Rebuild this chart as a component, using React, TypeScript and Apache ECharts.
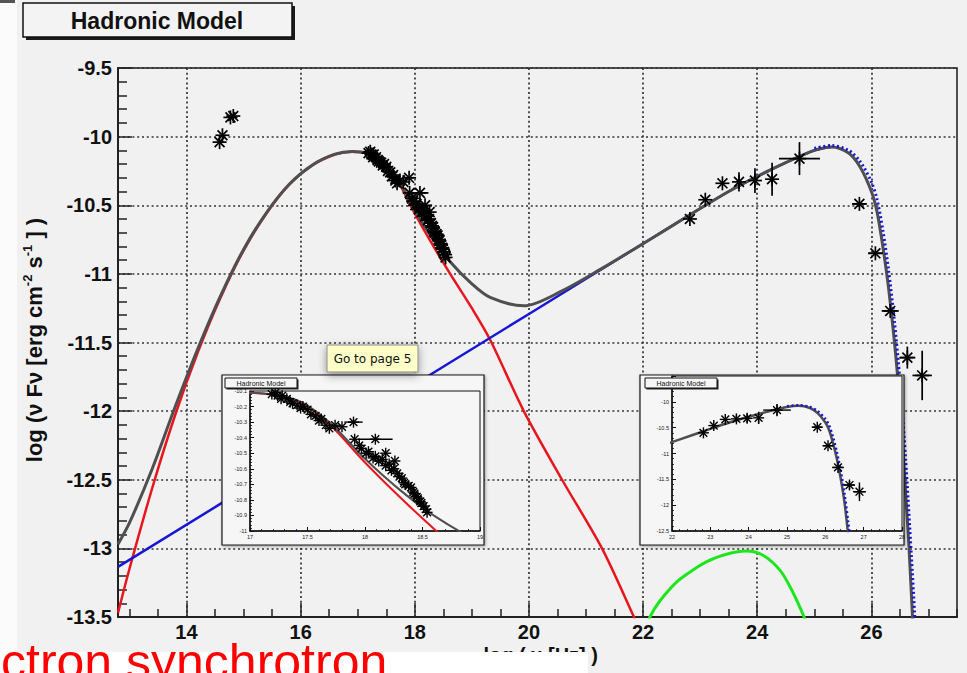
import React, { useEffect, useRef } from "react";
import * as echarts from "echarts";

// x = log10(ν / Hz), y = log10(νFν / erg cm^-2 s^-1)

// electron synchrotron component (red)
const syncX = [12.8, 13.0, 13.4, 13.8, 14.2, 14.6, 15.0, 15.4, 15.8, 16.2, 16.6, 16.9, 17.2, 17.45, 17.7, 18.0, 18.3, 18.62, 19.0, 19.32, 19.91, 20.58, 21.28, 21.84, 22.0];
const syncY = [-13.47, -13.15, -12.56, -12.03, -11.57, -11.17, -10.83, -10.56, -10.35, -10.21, -10.13, -10.11, -10.125, -10.18, -10.32, -10.56, -10.78, -11.0, -11.25, -11.48, -12.0, -12.5, -13.0, -13.5, -13.65];

// proton synchrotron component (blue), power-law part
const protonX = [12.8, 16.0, 20.0, 23.0, 23.5, 24.0, 24.5, 25.0, 25.3];
const protonY = [-13.135, -12.316, -11.292, -10.524, -10.4, -10.29, -10.19, -10.1, -10.075];

// proton synchrotron high-energy cutoff (blue, dotted)
const cutoffX = [25.0, 25.3, 25.6, 25.8, 26.0, 26.1, 26.2, 26.3, 26.4, 26.5, 26.6, 26.7, 26.76, 26.8];
const cutoffY = [-10.085, -10.065, -10.1, -10.18, -10.33, -10.46, -10.68, -10.97, -11.33, -11.78, -12.35, -13.05, -13.5, -13.9];

// muon / pion cascade component (green)
const cascadeX = [22.05, 22.12, 22.3, 22.6, 22.9, 23.1, 23.4, 23.8, 24.1, 24.4, 24.6, 24.82, 24.9];
const cascadeY = [-13.6, -13.5, -13.38, -13.24, -13.15, -13.1, -13.05, -13.02, -13.05, -13.16, -13.3, -13.5, -13.6];

// total model (grey)
const totalX = [12.8, 13.0, 13.4, 13.8, 14.2, 14.6, 15.0, 15.4, 15.8, 16.2, 16.6, 16.9, 17.2, 17.45, 17.7, 18.0, 18.3, 18.62, 19.0, 19.32, 19.91, 20.58, 21.28, 21.84, 22.5, 23.0, 23.5, 24.0, 24.5, 25.0, 25.3, 25.6, 25.8, 26.0, 26.1, 26.2, 26.3, 26.4, 26.5, 26.6, 26.66, 26.72, 26.76];
const totalY = [-12.97, -12.815, -12.42, -11.97, -11.544, -11.157, -10.822, -10.555, -10.347, -10.208, -10.128, -10.108, -10.123, -10.173, -10.308, -10.536, -10.734, -10.911, -11.073, -11.172, -11.233, -11.124, -10.96, -10.82, -10.652, -10.524, -10.4, -10.29, -10.19, -10.1, -10.075, -10.12, -10.22, -10.4, -10.55, -10.8, -11.1, -11.48, -11.95, -12.6, -13.0, -13.5, -13.8];

// optical points
const optX = [14.58, 14.63, 14.77, 14.82];
const optY = [-10.04, -9.99, -9.86, -9.85];

// X-ray points
const xrayX = [17.19, 17.22, 17.24, 17.27, 17.28, 17.32, 17.35, 17.37, 17.41, 17.44, 17.46, 17.5, 17.53, 17.57, 17.6, 17.62, 17.66, 17.69, 17.74, 17.8, 17.9, 17.91, 18.09, 17.95, 17.97, 18.01, 18.03, 18.07, 18.09, 18.12, 18.15, 18.18, 18.18, 18.21, 18.23, 18.25, 18.26, 18.28, 18.3, 18.32, 18.34, 18.35, 18.38, 18.4, 18.42, 18.43, 18.45, 18.46, 18.48, 18.49, 18.51, 18.53, 18.54];
const xrayY = [-10.12, -10.11, -10.13, -10.15, -10.13, -10.15, -10.17, -10.18, -10.19, -10.21, -10.2, -10.22, -10.25, -10.26, -10.29, -10.28, -10.32, -10.34, -10.32, -10.33, -10.3, -10.41, -10.41, -10.45, -10.47, -10.5, -10.49, -10.53, -10.52, -10.55, -10.54, -10.58, -10.5, -10.57, -10.61, -10.6, -10.55, -10.63, -10.65, -10.66, -10.69, -10.7, -10.71, -10.72, -10.75, -10.76, -10.78, -10.79, -10.81, -10.82, -10.84, -10.86, -10.88];
const xrayXErr = [0, 0, 0, 0, 0, 0, 0, 0, 0, 0, 0, 0, 0, 0, 0, 0, 0, 0, 0, 0, 0.08, 0, 0.15, 0, 0, 0, 0, 0, 0, 0, 0, 0, 0, 0, 0, 0, 0, 0, 0, 0, 0, 0, 0, 0, 0, 0, 0, 0, 0, 0, 0, 0, 0];

// gamma-ray points
const gammaX = [22.82, 23.09, 23.39, 23.68, 23.96, 24.26, 24.74, 25.79, 26.07, 26.33, 26.63, 26.89];
const gammaY = [-10.6, -10.46, -10.34, -10.33, -10.32, -10.31, -10.16, -10.49, -10.85, -11.27, -11.61, -11.74];
const gammaXErr = [0, 0, 0, 0, 0, 0, 0.36, 0.13, 0.13, 0.15, 0.14, 0.17];
const gammaYErr = [0, 0, 0, 0.07, 0.09, 0.12, 0.12, 0, 0, 0, 0.08, 0.18];

// axis ticks
const xMajorTicks = [14, 16, 18, 20, 22, 24, 26];
const xRange = [12.8, 27.5];
const yRange = [-13.5, -9.5];

const FONT = '"Liberation Sans", Arial, Helvetica, sans-serif';
const RED = "#e8161c";
const BLUE = "#1616d6";
const GREY = "#4f4f4f";
const GREEN = "#1ee61e";

const zip = (xs: number[], ys: number[]) => xs.map((x, i) => [x, ys[i]]);

const points = (xs: number[], ys: number[], xe?: number[], ye?: number[]) =>
  xs.map((x, i) => [x, ys[i], xe ? xe[i] : 0, ye ? ye[i] : 0]);

function starRenderer(radius: number, lw: number) {
  return (params: any, api: any) => {
    const x = api.value(0);
    const y = api.value(1);
    const xe = api.value(2) || 0;
    const ye = api.value(3) || 0;
    const c = api.coord([x, y]);
    const cs = params.coordSys;
    if (c[0] < cs.x || c[0] > cs.x + cs.width || c[1] < cs.y || c[1] > cs.y + cs.height) return null;
    const style = { stroke: "#000", lineWidth: lw };
    const seg = (x1: number, y1: number, x2: number, y2: number) => ({
      type: "line",
      shape: { x1, y1, x2, y2 },
      style,
    });
    const children: any[] = [];
    if (xe > 0) {
      const a = api.coord([x - xe, y]);
      const b = api.coord([x + xe, y]);
      children.push(seg(Math.max(a[0], cs.x), a[1], Math.min(b[0], cs.x + cs.width), b[1]));
    }
    if (ye > 0) {
      const a = api.coord([x, y - ye]);
      const b = api.coord([x, y + ye]);
      children.push(seg(a[0], a[1], b[0], b[1]));
    }
    const d = radius * Math.SQRT1_2;
    children.push(
      seg(c[0] - radius, c[1], c[0] + radius, c[1]),
      seg(c[0], c[1] - radius, c[0], c[1] + radius),
      seg(c[0] - d, c[1] - d, c[0] + d, c[1] + d),
      seg(c[0] - d, c[1] + d, c[0] + d, c[1] - d)
    );
    return { type: "group", children };
  };
}

const trimNum = (v: number) => String(Number(v.toFixed(2)));

function lineSeries(name: string, data: number[][], color: string, width: number, xi: number, yi: number, z: number, dotted = false) {
  return {
    name,
    type: "line",
    xAxisIndex: xi,
    yAxisIndex: yi,
    data,
    showSymbol: false,
    smooth: 0.3,
    clip: true,
    z,
    lineStyle: { color, width, type: dotted ? [2, 2.6] : "solid" },
    silent: true,
  };
}

function insetAxes(gridIndex: number, xmin: number, xmax: number, xint: number, ymin: number, ymax: number, yint: number) {
  const common = {
    gridIndex,
    type: "value",
    z: 12,
    axisLine: { show: true, lineStyle: { color: "#111", width: 1.5 } },
    axisTick: { show: true, inside: true, length: 4, lineStyle: { color: "#111", width: 1 } },
    minorTick: { show: true, splitNumber: 5, length: 2, lineStyle: { color: "#111", width: 0.8 } },
    splitLine: { show: false },
    axisLabel: { fontSize: 5.5, color: "#222", fontFamily: FONT, margin: 3, formatter: trimNum },
  };
  return {
    x: { ...common, min: xmin, max: xmax, interval: xint, position: "bottom" },
    y: { ...common, min: ymin, max: ymax, interval: yint, position: "left", axisLabel: { ...common.axisLabel, showMaxLabel: gridIndex === 1 } },
  };
}

export default function App() {
  const ref = useRef<HTMLDivElement>(null);

  useEffect(() => {
    if (!ref.current) return;
    const chart = echarts.init(ref.current, undefined, { renderer: "svg" });

    const xMinorTicks: number[] = [];
    for (let v = 13; v <= 27.5; v += 0.5) if (!xMajorTicks.includes(v)) xMinorTicks.push(v);

    const leftInset = insetAxes(1, 17, 19, 0.5, -11, -10.1, 0.1);
    const rightInset = insetAxes(2, 22, 28, 1, -12.5, -9.5, 0.5);

    const dotted = { show: true, lineStyle: { color: "#333", width: 1.7, type: [2, 2.8] } };

    const insetPanel = (x: number, y: number, w: number, h: number) => [
      {
        type: "rect",
        z: 10,
        shape: { x, y, width: w, height: h },
        style: { fill: "#f6f6f6", stroke: "#1a1a1a", lineWidth: 1.2, shadowBlur: 3, shadowColor: "rgba(0,0,0,0.35)", shadowOffsetX: 1, shadowOffsetY: 1 },
      },
    ];
    const insetTitle = (x: number, y: number) => [
      { type: "rect", z: 15, shape: { x: x + 1.5, y: y + 1.5, width: 72, height: 10 }, style: { fill: "#222" } },
      { type: "rect", z: 15, shape: { x, y, width: 72, height: 10 }, style: { fill: "#f6f6f6", stroke: "#111", lineWidth: 1 } },
      {
        type: "text",
        z: 16,
        x: x + 36,
        y: y + 5,
        style: { text: "Hadronic Model", fontSize: 7, fontFamily: FONT, fill: "#111", align: "center", verticalAlign: "middle" },
      },
    ];

    const option: any = {
      animation: false,
      backgroundColor: "#f1f1f1",
      grid: [
        { left: 118, top: 68, width: 839, height: 549, show: true, backgroundColor: "transparent", borderColor: "#1a1a1a", borderWidth: 1.5 },
        { left: 250, top: 391, width: 230, height: 140, show: true, backgroundColor: "transparent", borderColor: "#111", borderWidth: 1, z: 12 },
        { left: 672, top: 376, width: 230, height: 155, show: true, backgroundColor: "transparent", borderColor: "#111", borderWidth: 1, z: 12 },
      ],
      xAxis: [
        {
          gridIndex: 0,
          type: "value",
          min: xRange[0],
          max: xRange[1],
          position: "bottom",
          axisLine: { show: true, onZero: false, lineStyle: { color: "#222", width: 2 } },
          axisTick: { show: true, inside: true, length: 14, customValues: xMajorTicks, lineStyle: { color: "#222", width: 1.5 } },
          axisLabel: { customValues: xMajorTicks, fontSize: 20, fontWeight: "bold", color: "#111", fontFamily: FONT, margin: 5 },
          splitLine: dotted,
        },
        {
          gridIndex: 0,
          type: "value",
          min: xRange[0],
          max: xRange[1],
          position: "bottom",
          axisLine: { show: false },
          axisTick: { show: true, inside: true, length: 8, customValues: xMinorTicks, lineStyle: { color: "#222", width: 1.5 } },
          axisLabel: { show: false },
          splitLine: { show: false },
        },
        leftInset.x,
        rightInset.x,
      ],
      yAxis: [
        {
          gridIndex: 0,
          type: "value",
          min: yRange[0],
          max: yRange[1],
          interval: 0.5,
          axisLine: { show: true, onZero: false, lineStyle: { color: "#222", width: 2 } },
          axisTick: { show: true, inside: true, length: 14, lineStyle: { color: "#222", width: 1.5 } },
          minorTick: { show: true, splitNumber: 5, length: 9, lineStyle: { color: "#222", width: 1.5 } },
          axisLabel: { fontSize: 20, fontWeight: "bold", color: "#111", fontFamily: FONT, margin: 6, formatter: trimNum },
          splitLine: dotted,
        },
        leftInset.y,
        rightInset.y,
      ],
      graphic: [
        // page edges
        { type: "rect", z: 0, shape: { x: 0, y: 0, width: 17, height: 673 }, style: { fill: "#fbfbfb" } },
        { type: "rect", z: 0, shape: { x: 0, y: 0, width: 15, height: 3 }, style: { fill: "#555" } },
        // title box
        { type: "rect", z: 5, shape: { x: 26, y: 6, width: 269, height: 34 }, style: { fill: "#1a1a1a" } },
        { type: "rect", z: 5, shape: { x: 23, y: 3, width: 269, height: 34 }, style: { fill: "#f3f3f3", stroke: "#111", lineWidth: 1.5 } },
        {
          type: "text",
          z: 6,
          x: 157,
          y: 21,
          style: { text: "Hadronic Model", fontSize: 23, fontWeight: "bold", fontFamily: FONT, fill: "#111", align: "center", verticalAlign: "middle" },
        },
        // y-axis title
        {
          type: "text",
          z: 6,
          x: 34,
          y: 340,
          rotation: Math.PI / 2,
          style: {
            text: "{b|log (ν Fν [erg cm}{s|-2}{b| s}{s|-1}{b| ] )}",
            align: "center",
            verticalAlign: "middle",
            fill: "#111",
            rich: {
              b: { fontSize: 22, fontWeight: "bold", fontFamily: FONT, fill: "#111", lineHeight: 27 },
              s: { fontSize: 13, fontWeight: "bold", fontFamily: FONT, fill: "#111", lineHeight: 13, verticalAlign: "top" },
            },
          },
        },
        // insets
        ...insetPanel(222, 375, 262, 170),
        ...insetPanel(640, 375, 264, 170),
        ...insetTitle(225, 378),
        ...insetTitle(645, 378),
        // link tooltip
        {
          type: "rect",
          z: 20,
          shape: { x: 327, y: 345, width: 91, height: 27 },
          style: { fill: "#ffffc8", stroke: "#8c8c8c", lineWidth: 1, shadowBlur: 8, shadowColor: "rgba(0,0,0,0.4)", shadowOffsetY: 3 },
        },
        {
          type: "text",
          z: 21,
          x: 372.5,
          y: 358.5,
          style: { text: "Go to page 5", fontSize: 12, fontFamily: '"DejaVu Sans", sans-serif', fill: "#111", align: "center", verticalAlign: "middle" },
        },
        // x-axis title and the overlapping slide caption
        {
          type: "text",
          z: 19,
          x: 598,
          y: 645,
          style: { text: "log ( ν [Hz] )", fontSize: 20, fontWeight: "bold", fontFamily: FONT, fill: "#111", align: "right", verticalAlign: "top" },
        },
        { type: "rect", z: 20, shape: { x: 0, y: 652, width: 588, height: 21 }, style: { fill: "#ffffff" } },
        {
          type: "text",
          z: 21,
          x: 1,
          y: 662,
          style: { text: "ctron synchrotron", fontSize: 50, fontFamily: FONT, fill: "#ff0000", align: "left", verticalAlign: "middle" },
        },
      ],
      series: [
        lineSeries("cascade", zip(cascadeX, cascadeY), GREEN, 3, 0, 0, 2),
        lineSeries("electron synchrotron", zip(syncX, syncY), RED, 2.5, 0, 0, 2),
        lineSeries("proton synchrotron", zip(protonX, protonY), BLUE, 2.5, 0, 0, 2),
        lineSeries("total", zip(totalX, totalY), GREY, 3, 0, 0, 3),
        lineSeries("proton cutoff", zip(cutoffX, cutoffY), BLUE, 3, 0, 0, 3, true),
        {
          type: "custom",
          xAxisIndex: 0,
          yAxisIndex: 0,
          z: 4,
          silent: true,
          renderItem: starRenderer(7, 1.7),
          encode: { x: 0, y: 1 },
          data: [
            ...points(optX, optY),
            ...points(xrayX, xrayY, xrayXErr),
            ...points(gammaX, gammaY, gammaXErr, gammaYErr),
          ],
        },
        // left inset: X-ray band
        lineSeries("inset electron synchrotron", zip(syncX, syncY), RED, 2, 2, 1, 13),
        lineSeries("inset total", zip(totalX, totalY), GREY, 2, 2, 1, 13),
        {
          type: "custom",
          xAxisIndex: 2,
          yAxisIndex: 1,
          z: 14,
          silent: true,
          renderItem: starRenderer(5.5, 1.4),
          encode: { x: 0, y: 1 },
          data: points(xrayX, xrayY, xrayXErr),
        },
        // right inset: gamma-ray band
        lineSeries("inset total gamma", zip(totalX, totalY), GREY, 2.5, 3, 2, 13),
        lineSeries("inset proton cutoff", zip(cutoffX, cutoffY), BLUE, 2.5, 3, 2, 13, true),
        {
          type: "custom",
          xAxisIndex: 3,
          yAxisIndex: 2,
          z: 14,
          silent: true,
          renderItem: starRenderer(5.5, 1.4),
          encode: { x: 0, y: 1 },
          data: points(gammaX, gammaY, gammaXErr, gammaYErr),
        },
      ],
    };

    chart.setOption(option);
    return () => chart.dispose();
  }, []);

  return (
    <div
      ref={ref}
      style={{ position: "absolute", left: 0, top: 0, width: 967, height: 673, background: "#f1f1f1" }}
    />
  );
}
